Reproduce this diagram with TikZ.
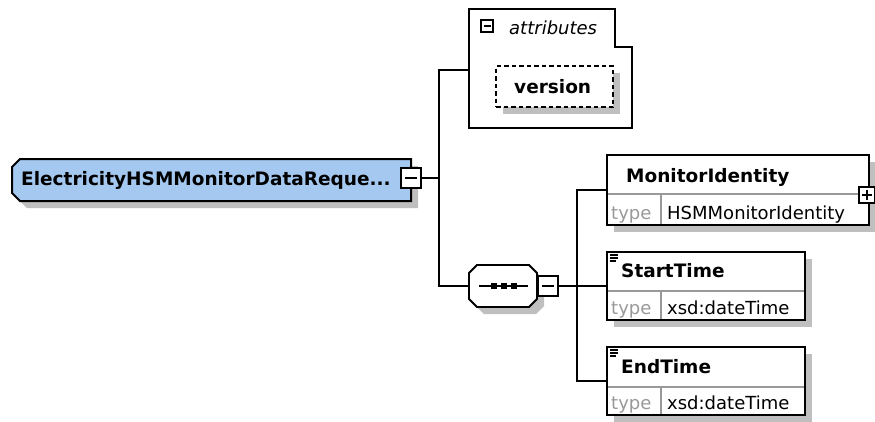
\documentclass[tikz,border=0pt]{standalone}
\usepackage{fontspec}
\setmainfont{DejaVu Sans}
\usetikzlibrary{positioning,calc,shadows}

\definecolor{elemblue}{RGB}{164,200,240}

\begin{document}
\begin{tikzpicture}[x=1pt, y=-1pt,
    shade/.style={fill=black!25, draw=none},
    boxshadow/.style={drop shadow={shadow xshift=7pt, shadow yshift=-7pt, fill=black!25, opacity=1}},
    elembox/.style={draw, fill=white, line width=2pt, anchor=north west, inner sep=0pt, outer sep=0pt, boxshadow},
    divider/.style={draw=black!40, line width=1.5pt},
    tag/.style={font=\fontsize{18.5}{20}\selectfont\bfseries, anchor=base west, inner sep=0pt},
    typetag/.style={font=\fontsize{18}{20}\selectfont, text=black!40, anchor=base west, inner sep=0pt},
    typename/.style={font=\fontsize{18}{20}\selectfont, anchor=base west, inner sep=0pt},
    toggle/.style={draw, fill=white, minimum size=20pt, inner sep=0pt, outer sep=0pt, line width=1.8pt,
      path picture={\draw[line width=1.8pt] ([xshift=4pt]path picture bounding box.west) -- ([xshift=-4pt]path picture bounding box.east);}},
    plustoggle/.style={toggle, minimum size=16pt,
      path picture={\draw[line width=1.6pt] ([xshift=3pt]path picture bounding box.west) -- ([xshift=-3pt]path picture bounding box.east)
        ([yshift=-3pt]path picture bounding box.north) -- ([yshift=3pt]path picture bounding box.south);}},
    link/.style={draw, line width=2.2pt}
  ]
  \useasboundingbox (0,0) rectangle (875,421);

  % root element
  \fill[shade] (19,174) -- (27,166) -- (418,166) -- (418,208) -- (27,208) -- (19,200) -- cycle;
  \draw[fill=elemblue, line width=2pt] (12,167) -- (20,159) -- (411,159) -- (411,201) -- (20,201) -- (12,193) -- cycle;
  \node[tag] (root) at (21,185) {ElectricityHSMMonitorDataReque...};
  \node[toggle] (rootT) at (411,178) {};

  % attributes
  \draw[fill=white, line width=1.8pt] (469,9) -- (615,9) -- (615,47) -- (632,47) -- (632,128) -- (469,128) -- cycle;
  \coordinate (attr) at (469,70);
  \node[toggle, minimum size=12pt, line width=1.4pt,
    path picture={\draw[line width=1.4pt] ([xshift=2.5pt]path picture bounding box.west) -- ([xshift=-2.5pt]path picture bounding box.east);}] (attrT) at (487,26) {};
  \node[typename, font=\fontsize{18}{20}\selectfont\itshape] (attrL) at (509,34) {attributes};
  \node[elembox, dashed, dash pattern=on 4.5pt off 3pt, line width=1.8pt, minimum width=117pt, minimum height=41pt] (version) at (496,66) {};
  \node[tag] at (514,93) {version};

  % sequence
  \fill[shade] (484,272) -- (536,272) -- (544,280) -- (544,306) -- (536,314) -- (484,314) -- (476,306) -- (476,280) -- cycle;
  \draw[fill=white, line width=1.8pt] (477,265) -- (529,265) -- (537,273) -- (537,299) -- (529,307) -- (477,307) -- (469,299) -- (469,273) -- cycle;
  \coordinate (seq) at (469,286);
  \draw[line width=1.8pt] (479,286) -- (528,286);
  \foreach \sx in {493.5,503.5,513.5}
    \fill (\sx-3,283) rectangle (\sx+3,289);
  \node[toggle] (seqT) at (548,286) {};

  % child elements
  \node[elembox, minimum width=262pt, minimum height=70pt] (mi) at (607,155) {};
  \draw[divider] (608,194) -- (868,194) (661,194) -- (661,224);
  \node[tag] at (626,182) {MonitorIdentity};
  \node[typetag] at (611,219) {type};
  \node[typename] at (667,219) {HSMMonitorIdentity};
  \node[plustoggle] (miT) at (867,195) {};

  \node[elembox, minimum width=198pt, minimum height=68pt] (st) at (607,252) {};
  \draw[divider] (608,291) -- (804,291) (661,291) -- (661,319);
  \draw[line width=1.1pt] (610,255) -- (618,255) (610,258) -- (618,258) (610,261) -- (616,261);
  \node[tag] at (621,277) {StartTime};
  \node[typetag] at (611,314) {type};
  \node[typename] at (667,314) {xsd:dateTime};

  \node[elembox, minimum width=198pt, minimum height=68pt] (et) at (607,347) {};
  \draw[divider] (608,387) -- (804,387) (661,387) -- (661,414);
  \draw[line width=1.1pt] (610,350) -- (618,350) (610,353) -- (618,353) (610,356) -- (616,356);
  \node[tag] at (621,373) {EndTime};
  \node[typetag] at (611,409) {type};
  \node[typename] at (667,409) {xsd:dateTime};

  % connectors
  \coordinate (fork) at (439,178);
  \coordinate (split) at (577,286);
  \path[link]
    (rootT.east) -- (fork)
    (fork) |- (attr)
    (fork) |- (seq)
    (seqT.east) -- (split)
    (split) |- (mi.west)
    (split) |- (st.west)
    (split) |- (et.west);
\end{tikzpicture}
\end{document}
